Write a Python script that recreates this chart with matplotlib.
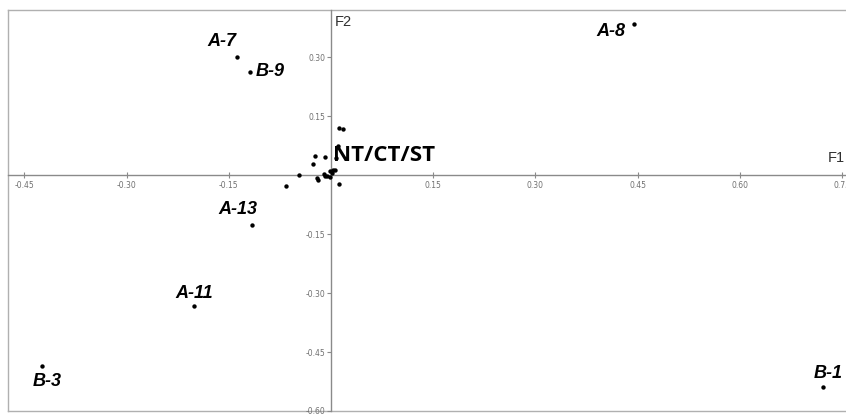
import matplotlib
matplotlib.use("Agg")
import matplotlib.pyplot as plt
import numpy as np

# Labelled points
labels = ["A-7", "B-9", "A-8", "A-13", "A-11", "B-3", "B-1"]
lab_x = [-0.138, -0.119, 0.445, -0.116, -0.201, -0.424, 0.722]
lab_y = [0.301, 0.261, 0.384, -0.126, -0.334, -0.485, -0.540]

# Unlabelled cluster near the origin (NT/CT/ST)
clu_x = [0.011, 0.017, 0.010, 0.007, -0.024, -0.009, -0.027, -0.047, -0.066,
         -0.020, -0.019, -0.011, -0.006, -0.002, 0.003, -0.009, -0.002, 0.001,
         0.012, 0.006]
clu_y = [0.120, 0.116, 0.075, 0.043, 0.049, 0.045, 0.028, 0.001, -0.027,
         -0.008, -0.013, 0.003, -0.002, 0.009, 0.013, -0.003, -0.005, 0.005,
         -0.023, 0.013]

xticks = [-0.45, -0.30, -0.15, 0.15, 0.30, 0.45, 0.60, 0.75]
yticks = [0.30, 0.15, -0.15, -0.30, -0.45, -0.60]

W, H = 846, 416
fig = plt.figure(figsize=(W / 100, H / 100), dpi=100)
rect = [8 / W, 5 / H, (W - 8) / W, 401 / H]

# frame
bg = fig.add_axes(rect)
bg.set_xticks([]); bg.set_yticks([])
for s in ["left", "top", "bottom"]:
    bg.spines[s].set_color("#b0b0b0")
    bg.spines[s].set_linewidth(1.0)
bg.spines["right"].set_visible(False)
bg.patch.set_alpha(0)

ax = fig.add_axes(rect)
ax.patch.set_alpha(0)
ax.set_xlim(-0.474, 0.7557)
ax.set_ylim(-0.588, 0.4196)
ax.spines["left"].set_position(("data", 0))
ax.spines["bottom"].set_position(("data", 0))
ax.spines["right"].set_visible(False)
ax.spines["top"].set_visible(False)
for s in ["left", "bottom"]:
    ax.spines[s].set_color("#8a8a8a")
    ax.spines[s].set_linewidth(1.0)

ax.set_xticks(xticks)
ax.set_xticklabels([f"{v:.2f}" for v in xticks])
ax.set_yticks(yticks)
ax.set_yticklabels([f"{v:.2f}" for v in yticks])
ax.tick_params(axis="x", direction="inout", length=5, width=0.8, color="#8a8a8a",
               labelsize=5.5, labelcolor="#707070", pad=2)
ax.tick_params(axis="y", direction="out", length=3, width=0.8, color="#8a8a8a",
               labelsize=5.5, labelcolor="#707070", pad=1)

ax.scatter(clu_x, clu_y, s=10, color="black", zorder=3, linewidths=0)
ax.scatter(lab_x, lab_y, s=10, color="black", zorder=3, linewidths=0)

offsets = {
    "A-7": (-15, 15, "center"),
    "B-9": (6, 1, "left"),
    "A-8": (-23, -7, "center"),
    "A-13": (-14, 15, "center"),
    "A-11": (0, 13, "center"),
    "B-3": (5, -16, "center"),
    "B-1": (5, 14, "center"),
}
for name, x, y in zip(labels, lab_x, lab_y):
    dx, dy, ha = offsets[name]
    ax.annotate(name, (x, y), xytext=(dx, dy), textcoords="offset pixels",
                ha=ha, va="center", fontsize=13, fontweight="bold",
                fontstyle="italic", family="Liberation Sans", color="black")

ax.annotate("NT/CT/ST", (0, 0), xytext=(2, 20), textcoords="offset pixels",
            ha="left", va="center", fontsize=16, fontweight="bold",
            family="Open Sans", color="black", zorder=4)

ax.annotate("F1", (0.7557, 0), xytext=(-1, 17), textcoords="offset pixels",
            ha="right", va="center", fontsize=10.5, color="#303030",
            family="Liberation Sans")
ax.annotate("F2", (0, 0.4196), xytext=(4, -12), textcoords="offset pixels",
            ha="left", va="center", fontsize=10.5, color="#303030",
            family="Liberation Sans")

fig.savefig("out.png", dpi=100)
